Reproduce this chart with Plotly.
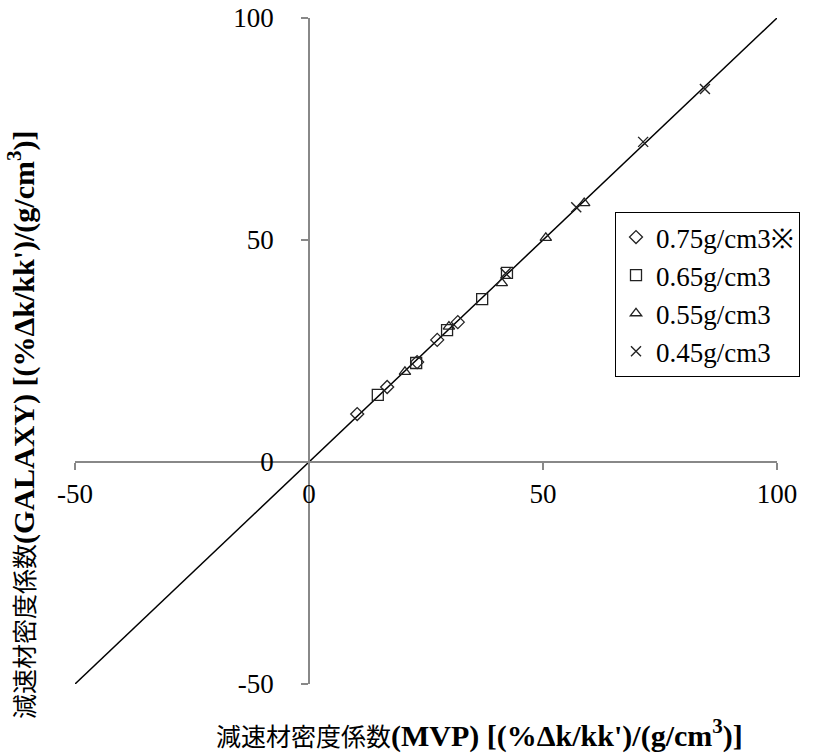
import plotly.graph_objects as go

# Data
x_075 = [10.3, 16.7, 23.1, 27.4, 31.8]
y_075 = [10.8, 16.9, 22.5, 27.5, 31.5]
x_065 = [14.7, 22.9, 29.5, 37.0, 42.3]
y_065 = [15.1, 22.3, 29.7, 36.7, 42.6]
x_055 = [20.5, 29.9, 41.2, 50.6, 58.8]
y_055 = [20.3, 30.5, 40.3, 50.5, 58.3]
x_045 = [42.0, 57.1, 71.4, 84.6]
y_045 = [42.5, 57.4, 72.1, 84.0]
line_xy = [-50, 100]
ticks = [-50, 0, 50, 100]
tick_text = ["-50", "0", "50", "100"]
names = ["0.75g/cm3※", "0.65g/cm3", "0.55g/cm3", "0.45g/cm3"]

serif = "Liberation Serif, Times New Roman, serif"
mk = "#222222"
axc = "#888888"

fig = go.Figure()
fig.add_trace(go.Scatter(x=line_xy, y=line_xy, mode="lines",
                         line=dict(color="black", width=1.5), showlegend=False, hoverinfo="skip"))
fig.add_trace(go.Scatter(x=x_075, y=y_075, mode="markers", name=names[0], legendgroup="a",
                         marker=dict(symbol="diamond-open", size=10, color=mk, line=dict(width=1.3))))
fig.add_trace(go.Scatter(x=x_065, y=y_065, mode="markers", name=names[1], legendgroup="b",
                         marker=dict(symbol="square-open", size=11, color=mk, line=dict(width=1.3))))
fig.add_trace(go.Scatter(x=x_055, y=y_055, mode="markers", name=names[2], legendgroup="c",
                         marker=dict(symbol="triangle-up-open", size=10, color=mk, line=dict(width=1.3))))
fig.add_trace(go.Scatter(x=x_045, y=y_045, mode="markers", name=names[3], legendgroup="d",
                         marker=dict(symbol="x-thin-open", size=10, color=mk, line=dict(width=1.4))))

axis_common = dict(range=[-50, 100], tickvals=ticks, ticktext=tick_text,
                   showgrid=False, zeroline=False,
                   showline=True, linecolor=axc, linewidth=1.5, ticks="outside",
                   ticklen=7, tickcolor=axc, tickwidth=1.5,
                   tickfont=dict(family=serif, size=27, color="black"),
                   anchor="free", position=1/3, automargin=False,
                   ticklabeloverflow="allow")

fig.update_layout(
    width=817, height=756,
    margin=dict(l=75, r=40, t=18, b=72),
    paper_bgcolor="white", plot_bgcolor="white",
    xaxis=dict(**axis_common, domain=[0, 1], ticklabelstandoff=1),
    yaxis=dict(**axis_common, domain=[0, 1], ticklabelstandoff=22),
    legend=dict(x=(615 - 75) / 702, y=(684 - 212) / 666, xanchor="left", yanchor="top",
                bordercolor="black", borderwidth=1, bgcolor="white",
                font=dict(family=serif, size=27, color="black"),
                tracegroupgap=0, itemwidth=30),
    showlegend=True,
)

cjk = "Noto Sans CJK JP"
sup = "<sup style='font-size:18px'>3</sup>"
fig.add_annotation(
    text=f"<span style='font-family:{cjk};font-size:25px'>減速材密度係数</span><b>(MVP) [(%Δk/kk')/(g/cm{sup})]</b>",
    xref="paper", yref="paper", x=(480 - 75) / 702, y=(684 - 733) / 666,
    xanchor="center", yanchor="middle", showarrow=False,
    font=dict(family=serif, size=30, color="black"))
fig.add_annotation(
    text=f"<span style='font-family:{cjk};font-size:25px'>減速材密度係数</span><b>(GALAXY) [(%Δk/kk')/(g/cm{sup})]</b>",
    xref="paper", yref="paper", x=(21 - 75) / 702, y=(684 - 425) / 666,
    xanchor="center", yanchor="middle", showarrow=False, textangle=-90,
    font=dict(family=serif, size=30, color="black"))

fig.write_html("out.html", config={"displayModeBar": False},
               post_script="document.body.style.margin='0';")
